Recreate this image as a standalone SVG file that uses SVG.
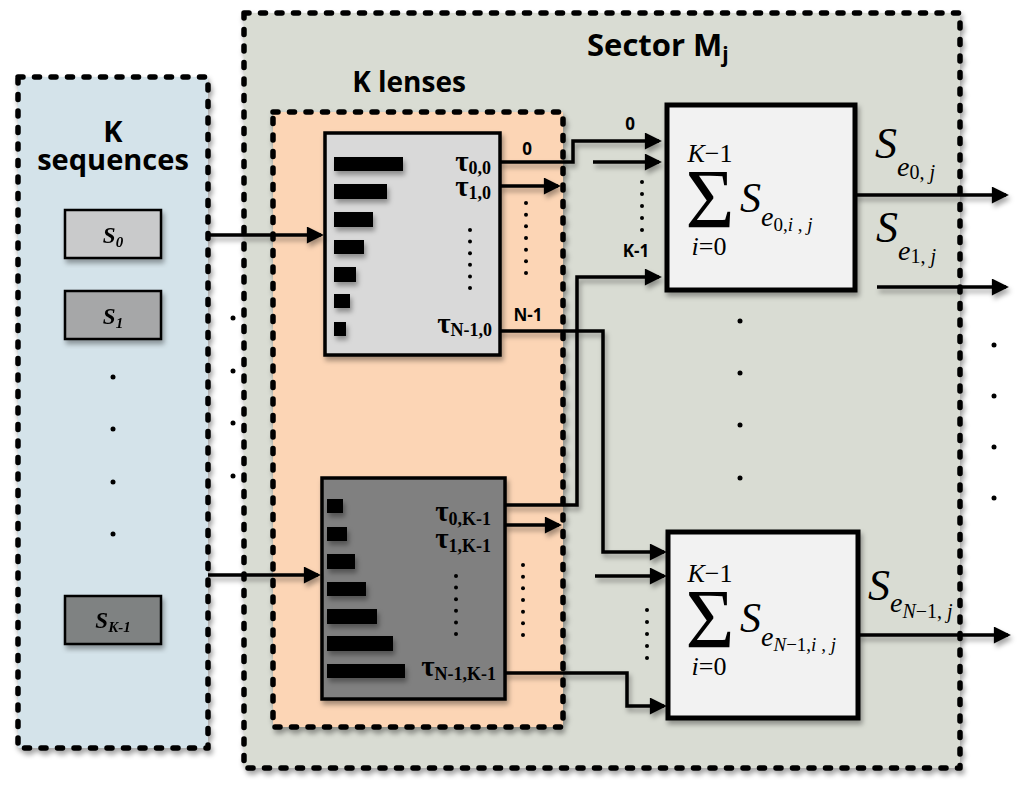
<svg xmlns="http://www.w3.org/2000/svg" width="1024" height="794" viewBox="0 0 1024 794">
<defs>
<style>
.dash{stroke:#000;stroke-width:5.5;stroke-dasharray:5 11.5;stroke-linecap:round;stroke-linejoin:round}
.lbl{font-family:"Open Sans","Liberation Sans",sans-serif;font-weight:bold;fill:#000}
.sm{font-family:"Open Sans","Liberation Sans",sans-serif;font-weight:bold;font-size:17px;fill:#000}
.tau{font-family:"Liberation Serif","Times New Roman",serif;font-weight:bold;fill:#000;text-anchor:end}
.math{font-family:"Liberation Serif","Times New Roman",serif;fill:#000}
.it{font-style:italic}
.con{fill:none;stroke:#000;stroke-width:3.5;stroke-linejoin:miter}
.arr{marker-end:url(#ah)}
.dot{fill:#000}
.lens{stroke:#000;stroke-width:3.5}
.sum{fill:#f2f2f2;stroke:#000;stroke-width:5}
.seq{stroke:#000;stroke-width:2.5}
</style>
<marker id="ah" viewBox="0 0 10 10" refX="8.3" refY="5" markerWidth="24" markerHeight="17" markerUnits="userSpaceOnUse" orient="auto">
<path d="M0,0 L10,5 L0,10 z" fill="#000"/>
</marker>
<filter id="sh" x="-20%" y="-20%" width="140%" height="140%">
<feDropShadow dx="2" dy="4" stdDeviation="2.5" flood-color="#000" flood-opacity="0.35"/>
</filter>
</defs>
<rect width="1024" height="794" fill="#fff"/>

<g id="k-sequences">
<rect x="18" y="77" width="190" height="671" fill="#d4e3ea" class="dash" filter="url(#sh)"/>
<text class="lbl" x="113" y="142" font-size="29" text-anchor="middle">K</text>
<text class="lbl" x="113" y="170" font-size="29" text-anchor="middle">sequences</text>
</g>

<g id="sector">
<rect x="244" y="13" width="716" height="755" fill="#d9dcd3" class="dash" filter="url(#sh)"/>
<text class="lbl" x="587" y="56" font-size="31">Sector M<tspan font-size="21" dy="6">j</tspan></text>
</g>

<g id="k-lenses">
<rect x="273" y="112" width="290" height="615" fill="#fcd5b5" class="dash" filter="url(#sh)"/>
<text class="lbl" x="409" y="92" font-size="28" text-anchor="middle">K lenses</text>
</g>

<g id="seq-s0" filter="url(#sh)">
<rect x="65" y="210" width="96" height="48" fill="#c9cacb" class="seq"/>
<text class="math it" x="113" y="243" font-size="23" text-anchor="middle" font-weight="bold">S<tspan font-size="15" dy="4">0</tspan></text>
</g>
<g id="seq-s1" filter="url(#sh)">
<rect x="65" y="291" width="96" height="48" fill="#a6a7a8" class="seq"/>
<text class="math it" x="113" y="324" font-size="23" text-anchor="middle" font-weight="bold">S<tspan font-size="15" dy="4">1</tspan></text>
</g>
<g id="seq-sk1" filter="url(#sh)">
<rect x="65" y="596" width="96" height="48" fill="#7f8282" class="seq"/>
<text class="math it" x="113" y="628" font-size="23" text-anchor="middle" font-weight="bold">S<tspan font-size="15" dy="4">K-1</tspan></text>
</g>

<g id="dots">
<circle class="dot" cx="113" cy="377" r="2.5"/><circle class="dot" cx="113" cy="429" r="2.5"/><circle class="dot" cx="113" cy="482" r="2.5"/><circle class="dot" cx="113" cy="534" r="2.5"/>
<circle class="dot" cx="233" cy="318" r="2.5"/><circle class="dot" cx="233" cy="371" r="2.5"/><circle class="dot" cx="233" cy="423" r="2.5"/><circle class="dot" cx="233" cy="476" r="2.5"/>
<circle class="dot" cx="740" cy="321" r="2.5"/><circle class="dot" cx="740" cy="373" r="2.5"/><circle class="dot" cx="740" cy="425" r="2.5"/><circle class="dot" cx="740" cy="478" r="2.5"/>
<circle class="dot" cx="994" cy="345" r="2.5"/><circle class="dot" cx="994" cy="396" r="2.5"/><circle class="dot" cx="994" cy="447" r="2.5"/><circle class="dot" cx="994" cy="498" r="2.5"/>
<g>
<circle class="dot" cx="526" cy="203" r="2"/><circle class="dot" cx="526" cy="214.7" r="2"/><circle class="dot" cx="526" cy="226.3" r="2"/><circle class="dot" cx="526" cy="238" r="2"/><circle class="dot" cx="526" cy="249.7" r="2"/><circle class="dot" cx="526" cy="261.3" r="2"/><circle class="dot" cx="526" cy="273" r="2"/>
<circle class="dot" cx="523" cy="565" r="2"/><circle class="dot" cx="523" cy="576.7" r="2"/><circle class="dot" cx="523" cy="588.3" r="2"/><circle class="dot" cx="523" cy="600" r="2"/><circle class="dot" cx="523" cy="611.7" r="2"/><circle class="dot" cx="523" cy="623.3" r="2"/><circle class="dot" cx="523" cy="635" r="2"/>
<circle class="dot" cx="642" cy="182" r="2"/><circle class="dot" cx="642" cy="194" r="2"/><circle class="dot" cx="642" cy="206" r="2"/><circle class="dot" cx="642" cy="218" r="2"/><circle class="dot" cx="642" cy="230" r="2"/>
<circle class="dot" cx="647" cy="610" r="2"/><circle class="dot" cx="647" cy="622" r="2"/><circle class="dot" cx="647" cy="634" r="2"/><circle class="dot" cx="647" cy="646" r="2"/><circle class="dot" cx="647" cy="658" r="2"/>
</g>
</g>

<g id="lens-0">
<rect x="325" y="133" width="175" height="222" fill="#d9d9d9" class="lens" filter="url(#sh)"/>
<g fill="#000" filter="url(#sh)">
<rect x="334" y="157" width="69" height="14"/>
<rect x="334" y="184" width="53" height="15"/>
<rect x="334" y="212" width="39" height="15"/>
<rect x="334" y="240" width="30" height="14"/>
<rect x="334" y="267" width="22" height="15"/>
<rect x="334" y="294" width="16" height="14"/>
<rect x="334" y="322" width="12" height="14"/>
</g>
<text class="tau" x="491" y="171" font-size="29">τ<tspan font-size="18" dy="3">0,0</tspan></text>
<text class="tau" x="491" y="196" font-size="29">τ<tspan font-size="18" dy="3">1,0</tspan></text>
<text class="tau" x="492" y="333" font-size="29">τ<tspan font-size="18" dy="3">N-1,0</tspan></text>
<circle class="dot" cx="470" cy="230" r="2"/><circle class="dot" cx="470" cy="241.6" r="2"/><circle class="dot" cx="470" cy="253.2" r="2"/><circle class="dot" cx="470" cy="264.8" r="2"/><circle class="dot" cx="470" cy="276.4" r="2"/><circle class="dot" cx="470" cy="288" r="2"/>
</g>

<g id="lens-k1">
<rect x="322" y="478" width="183" height="221" fill="#808080" class="lens" filter="url(#sh)"/>
<g fill="#000" filter="url(#sh)">
<rect x="327" y="499" width="16" height="14"/>
<rect x="327" y="527" width="20" height="14"/>
<rect x="327" y="554" width="28" height="15"/>
<rect x="327" y="582" width="39" height="14"/>
<rect x="327" y="609" width="50" height="15"/>
<rect x="327" y="636" width="66" height="15"/>
<rect x="327" y="664" width="78" height="14"/>
</g>
<text class="tau" x="491" y="521" font-size="29">τ<tspan font-size="18" dy="4">0,K-1</tspan></text>
<text class="tau" x="491" y="548" font-size="29">τ<tspan font-size="18" dy="4">1,K-1</tspan></text>
<text class="tau" x="496" y="676" font-size="29">τ<tspan font-size="18" dy="4">N-1,K-1</tspan></text>
<circle class="dot" cx="456" cy="576" r="2"/><circle class="dot" cx="456" cy="587.6" r="2"/><circle class="dot" cx="456" cy="599.2" r="2"/><circle class="dot" cx="456" cy="610.8" r="2"/><circle class="dot" cx="456" cy="622.4" r="2"/><circle class="dot" cx="456" cy="634" r="2"/>
</g>

<g id="connectors" filter="url(#sh)">
<path class="con arr" d="M208,235 H321"/>
<path class="con arr" d="M208,575 H318"/>
<path class="con arr" d="M500,162 H573 V141 H659"/>
<path class="con arr" d="M500,186 H558"/>
<path class="con arr" d="M593,162 H659"/>
<path class="con arr" d="M505,505 H577 V277 H659"/>
<path class="con arr" d="M500,331 H603 V552 H664"/>
<path class="con arr" d="M505,525 H559"/>
<path class="con arr" d="M595,576 H664"/>
<path class="con arr" d="M505,673 H627 V706 H664"/>
<path class="con arr" d="M855,195 H1006"/>
<path class="con arr" d="M877,287 H1006"/>
<path class="con arr" d="M858,635 H1008"/>
</g>

<g id="port-labels">
<text class="sm" x="527" y="155" text-anchor="middle">0</text>
<text class="sm" x="630" y="130" text-anchor="middle">0</text>
<text class="sm" x="636" y="257" text-anchor="middle">K-1</text>
<text class="sm" x="528" y="321" text-anchor="middle">N-1</text>
</g>

<g id="sum-0">
<rect x="667" y="105" width="188" height="185" class="sum" filter="url(#sh)"/>
<text class="math" x="710" y="162" font-size="26" text-anchor="middle"><tspan class="it">K</tspan>−1</text>
<text class="math" x="710" y="228" font-size="84" text-anchor="middle">Σ</text>
<text class="math" x="709" y="255" font-size="26" text-anchor="middle"><tspan class="it">i</tspan>=0</text>
<text class="math it" x="740" y="212" font-size="42">S<tspan font-size="28" dy="14">e</tspan><tspan font-size="19" dy="5" font-style="normal">0,<tspan font-style="italic">i</tspan> ,<tspan font-style="italic"> j</tspan></tspan></text>
</g>

<g id="sum-n1">
<rect x="668" y="532" width="190" height="186" class="sum" filter="url(#sh)"/>
<text class="math" x="710" y="582" font-size="26" text-anchor="middle"><tspan class="it">K</tspan>−1</text>
<text class="math" x="710" y="648" font-size="84" text-anchor="middle">Σ</text>
<text class="math" x="709" y="675" font-size="26" text-anchor="middle"><tspan class="it">i</tspan>=0</text>
<text class="math it" x="740" y="632" font-size="42">S<tspan font-size="28" dy="14">e</tspan><tspan font-size="19" dy="5" font-style="normal"><tspan font-style="italic">N</tspan>−1,<tspan font-style="italic">i</tspan> ,<tspan font-style="italic"> j</tspan></tspan></text>
</g>

<g id="outputs">
<text class="math it" x="875" y="158" font-size="44">S<tspan font-size="28" dy="18">e</tspan><tspan font-size="20" dy="3" font-style="normal">0,<tspan font-style="italic"> j</tspan></tspan></text>
<text class="math it" x="876" y="242" font-size="44">S<tspan font-size="28" dy="18">e</tspan><tspan font-size="20" dy="3" font-style="normal">1,<tspan font-style="italic"> j</tspan></tspan></text>
<text class="math it" x="868" y="600" font-size="44">S<tspan font-size="28" dy="12">e</tspan><tspan font-size="20" dy="6" font-style="normal"><tspan font-style="italic">N</tspan>−1,<tspan font-style="italic"> j</tspan></tspan></text>
</g>
</svg>
